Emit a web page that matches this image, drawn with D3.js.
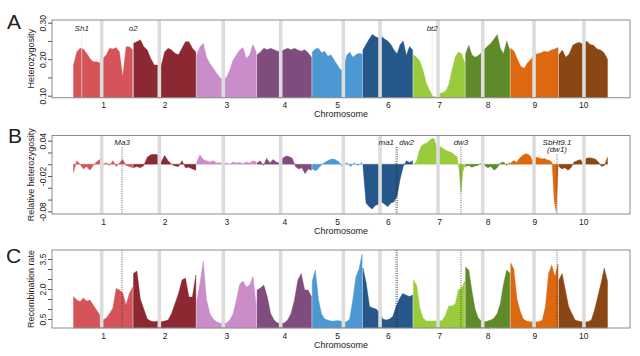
<!DOCTYPE html>
<html><head><meta charset="utf-8">
<script src="https://cdn.jsdelivr.net/npm/d3@7"></script>
<style>
body{margin:0;background:#fff}
text{font-family:"Liberation Sans",Arial,Helvetica,sans-serif;fill:#222}
</style>
</head><body>
<svg id="c" width="640" height="356"></svg>
<script>
// ---------------- data ----------------
const chromosomes = ["1","2","3","4","5","6","7","8","9","10"];
const chromLengths = [73.8, 77.9, 74.4, 68.0, 62.4, 62.2, 64.3, 55.5, 59.4, 60.9]; // Mb
const centromeres = [35.2, 32.4, 33.3, 29.6, 38.8, 21.6, 30.8, 21.6, 29.3, 31.4]; // Mb within chromosome
const chromColors = ["#d4545a","#8b2831","#cb8dca","#7f4c7d","#4b98d2","#25578a","#9acb3c","#5f8a29","#dc680f","#8a4714"];

// Panel A: heterozygosity, evenly spaced bins along each chromosome
const hetA = [
 [0.184,0.220,0.230,0.228,0.216,0.202,0.193,0.193,0.190,0.202,0.212,0.230,0.228,0.232,0.220,0.152,0.234,0.234,0.226],
 [0.244,0.248,0.253,0.234,0.225,0.202,0.184,0.184,0.182,0.220,0.230,0.225,0.216,0.212,0.230,0.248,0.248,0.230,0.220],
 [0.212,0.234,0.244,0.205,0.188,0.175,0.162,0.150,0.145,0.150,0.170,0.198,0.212,0.225,0.232,0.202,0.212,0.240,0.220],
 [0.212,0.220,0.230,0.226,0.230,0.226,0.222,0.222,0.226,0.230,0.226,0.230,0.225,0.222,0.226,0.218,0.205],
 [0.220,0.228,0.230,0.218,0.222,0.208,0.212,0.198,0.185,0.172,0.170,0.210,0.220,0.205,0.212,0.216,0.214],
 [0.225,0.240,0.255,0.268,0.262,0.258,0.262,0.255,0.250,0.240,0.225,0.215,0.240,0.250,0.210,0.235,0.225],
 [0.212,0.205,0.195,0.170,0.135,0.115,0.100,0.096,0.105,0.108,0.112,0.130,0.170,0.205,0.220,0.215,0.190],
 [0.215,0.238,0.212,0.205,0.210,0.218,0.228,0.236,0.244,0.255,0.268,0.230,0.215,0.250,0.225],
 [0.230,0.222,0.200,0.180,0.175,0.190,0.200,0.212,0.215,0.218,0.222,0.220,0.225,0.228,0.232],
 [0.212,0.225,0.205,0.215,0.238,0.244,0.246,0.240,0.250,0.240,0.238,0.228,0.225,0.218,0.200]
];

// Panel B: relative heterozygosity
const relB = [
 [-0.014,0.006,0.000,-0.008,-0.004,-0.010,-0.002,0.004,0.008,0.000,0.002,-0.002,0.006,-0.004,0.002,0.008,-0.002,-0.004,-0.006],
 [-0.006,-0.004,-0.006,-0.002,0.012,0.016,0.017,0.016,0.004,0.015,0.006,0.000,-0.003,-0.004,0.006,-0.006,-0.005,-0.008,-0.010],
 [0.004,0.016,0.008,0.006,0.004,0.006,0.002,0.003,0.001,0.002,0.000,0.004,0.002,0.003,0.001,0.004,0.002,0.006,0.004],
 [0.002,0.006,-0.002,0.010,0.002,0.008,0.004,0.002,0.010,0.014,0.013,0.010,-0.004,-0.008,-0.006,-0.016,-0.008,-0.010],
 [-0.008,-0.011,-0.004,0.002,0.006,0.009,0.008,0.004,-0.006,0.003,-0.004,0.002,-0.002,0.003],
 [-0.002,-0.066,-0.072,-0.076,-0.070,-0.068,-0.064,-0.068,-0.072,-0.066,-0.064,-0.054,-0.025,-0.004,0.006,0.003,0.006],
 [0.000,0.002,0.008,0.022,0.030,0.033,0.035,0.036,0.039,0.042,0.044,0.043,0.030,0.029,0.030,0.028,0.026,0.024,0.022,0.021,0.020,0.018,0.015,0.012,-0.010,-0.048,-0.012,-0.004],
 [-0.004,-0.002,-0.005,-0.003,-0.002,0.002,-0.002,-0.006,-0.004,-0.010,-0.006,0.002,0.004,-0.002,0.003],
 [0.002,0.005,0.006,0.003,0.008,0.012,0.015,0.017,0.018,0.016,0.014,0.006,0.010,0.012,0.011,0.010,0.009,0.010,0.008,0.007,0.006,0.002,-0.060,-0.080,-0.010],
 [-0.004,-0.008,-0.006,-0.010,-0.006,0.004,0.006,0.008,0.002,0.010,0.011,0.010,0.009,0.004,-0.004,-0.002,0.012]
];

// Panel C: recombination rate
const recC = [
 [1.62,1.45,1.37,1.55,1.40,1.45,1.20,0.95,0.70,0.45,0.55,0.78,1.05,2.03,1.95,1.80,1.20,1.78,2.10],
 [2.78,2.90,1.50,1.00,0.50,0.40,0.36,0.40,0.36,0.40,0.45,0.78,1.28,1.78,2.45,2.55,1.60,1.60,2.70],
 [1.40,2.30,3.40,1.45,0.78,0.50,0.36,0.30,0.28,0.30,0.45,0.78,1.45,2.25,2.40,2.10,2.20,2.62,1.20],
 [1.95,2.05,2.20,1.62,0.78,0.45,0.30,0.28,0.30,0.45,0.78,1.45,2.45,2.78,1.95,1.95,1.62],
 [2.40,2.95,1.45,0.75,0.50,0.45,0.40,0.40,0.42,0.40,0.36,0.36,0.50,1.45,2.60,3.00,3.75],
 [3.05,2.30,1.12,1.05,1.00,0.80,0.50,0.45,0.50,0.62,1.12,1.50,1.78,1.70,1.62,1.70],
 [2.45,2.20,1.05,0.55,0.40,0.40,0.40,0.40,0.40,0.42,0.70,1.15,1.15,1.25,1.95,2.05,2.40],
 [3.10,2.95,1.90,1.00,0.55,0.40,0.36,0.40,0.45,0.55,0.78,1.28,2.25,2.95,2.80],
 [3.30,3.00,1.50,0.90,0.50,0.40,0.36,0.36,0.36,0.36,0.45,1.12,2.78,3.20,2.62,3.25],
 [2.45,2.78,1.95,1.12,0.78,0.45,0.40,0.36,0.36,0.36,0.45,0.95,1.62,2.30,3.05,2.40]
];

// tick values
const ticksA = [0.10,0.15,0.20,0.25,0.30];
const tickLabelsA = [0.10,0.20,0.30];
const ticksB = [0.04,0.02,0,-0.02,-0.04,-0.06,-0.08];
const tickLabelsB = [0.04,-0.02,-0.08];
const ticksC = [0.5,1.0,1.5,2.0,2.5,3.0,3.5];
const tickLabelsC = [0.5,2.0,3.5];

// genes (chromosome index 1-based, Mb within chromosome)
const genesA = [{name:"Sh1",chr:1,pos:10.6},{name:"o2",chr:2,pos:0.2},{name:"bt2",chr:7,pos:23.7}];
const genesBC = [
 {name:"Ma3",chr:1,pos:60.3,anchor:"middle"},
 {name:"ma1",chr:6,pos:41.3,anchor:"end"},
 {name:"dw2",chr:6,pos:42.8,anchor:"start"},
 {name:"dw3",chr:7,pos:59.1,anchor:"middle"},
 {name:"SbHt9.1",chr:9,pos:57.6,anchor:"middle",sub:"(dw1)"}
];

// ---------------- drawing ----------------
const svg = d3.select("#c");
const x = d3.scaleLinear().domain([-26, 686]).range([52, 630]);
const offsets = [];
{ let acc = 0; chromLengths.forEach(l => { offsets.push(acc); acc += l; }); }
const gpos = (chrIdx, mb) => offsets[chrIdx] + mb;

const panels = [
 {letter:"A", top:20, bottom:97.7, domain:[0.0945,0.3074], data:hetA, zeroBase:false,
  ticks:ticksA, labeled:tickLabelsA, dec:2, title:"Heterozygosity", letterY:28.5, letterX:7},
 {letter:"B", top:135.5, bottom:214, domain:[-0.0845,0.0488], data:relB, zeroBase:true,
  ticks:ticksB, labeled:tickLabelsB, dec:2, title:"Relative heterozygosity", letterY:143, letterX:8},
 {letter:"C", top:250, bottom:328, domain:[0.05,3.95], data:recC, zeroBase:false,
  ticks:ticksC, labeled:tickLabelsC, dec:1, title:"Recombination rate", letterY:263, letterX:6}
];

panels.forEach((p, pi) => {
  const y = d3.scaleLinear().domain(p.domain).range([p.bottom, p.top]);
  const g = svg.append("g");
  const base = p.zeroBase ? y(0) : p.bottom;

  // areas per chromosome
  p.data.forEach((vals, ci) => {
    const len = chromLengths[ci];
    const n = vals.length;
    const pts = vals.map((v, i) => ({g: offsets[ci] + 0.5 + (len - 1.0) * i / (n - 1), v}));
    const area = d3.area().x(d => x(d.g)).y0(base).y1(d => y(d.v)).curve(d3.curveLinear);
    g.append("path").attr("d", area(pts)).attr("fill", chromColors[ci]).attr("stroke", chromColors[ci]).attr("stroke-width", 0.4);
  });

  // centromere bands
  centromeres.forEach((c, ci) => {
    const cx = x(gpos(ci, c));
    g.append("rect").attr("x", cx - 1.8).attr("y", p.top + 0.5).attr("width", 3.6)
      .attr("height", p.bottom - p.top - 1).attr("fill", "#dcdcdc");
  });

  // gene markers
  if (pi === 0) {
    genesA.forEach(gn => {
      const gx = x(gpos(gn.chr - 1, gn.pos));
      g.append("line").attr("x1", gx).attr("x2", gx).attr("y1", p.top + 13).attr("y2", p.bottom)
        .attr("stroke", "#e6e6e6").attr("stroke-width", 0.7);
      g.append("text").attr("x", gx).attr("y", p.top + 10.5).attr("text-anchor", "middle")
        .attr("font-size", 8).attr("font-style", "italic").text(gn.name);
    });
  } else {
    genesBC.forEach(gn => {
      const gx = x(gpos(gn.chr - 1, gn.pos));
      const y1 = pi === 1 ? p.top + (gn.sub ? 19 : 11.5) : p.top;
      g.append("line").attr("x1", gx).attr("x2", gx).attr("y1", y1).attr("y2", p.bottom)
        .attr("stroke", "#333").attr("stroke-width", 0.8).attr("stroke-dasharray", "1,1.3");
      if (pi === 1) {
        const tx = gn.anchor === "end" ? gx - 2 : gn.anchor === "start" ? gx + 2 : gx;
        g.append("text").attr("x", tx).attr("y", p.top + 9).attr("text-anchor", gn.anchor)
          .attr("font-size", 8).attr("font-style", "italic").text(gn.name);
        if (gn.sub) {
          g.append("text").attr("x", tx).attr("y", p.top + 16.5).attr("text-anchor", "middle")
            .attr("font-size", 8).attr("font-style", "italic").text(gn.sub);
        }
      }
    });
  }

  // box
  g.append("rect").attr("x", 52).attr("y", p.top).attr("width", 578).attr("height", p.bottom - p.top)
    .attr("fill", "none").attr("stroke", "#8d8d8d").attr("stroke-width", 1);

  // y axis
  const ya = d3.axisLeft(y).tickValues(p.ticks).tickSize(4).tickPadding(3)
    .tickFormat(v => p.labeled.some(l => Math.abs(l - v) < 1e-9) ? v.toFixed(p.dec) : "");
  const yg = g.append("g").attr("transform", "translate(52,0)").call(ya);
  yg.select(".domain").remove();
  yg.selectAll(".tick line").attr("stroke", "#555");
  yg.selectAll(".tick text").attr("transform", "rotate(-90)").attr("x", 0).attr("y", -6.5).attr("dy", 0)
    .attr("text-anchor", "middle").attr("font-size", 8.5).attr("font-family", null).style("fill", "#222");

  // x axis (labels at chromosome midpoints)
  const mids = chromosomes.map((c, i) => offsets[i] + chromLengths[i] / 2);
  const xa = d3.axisBottom(x).tickValues(mids).tickSize(0).tickPadding(4.5)
    .tickFormat((d, i) => chromosomes[i]);
  const xg = g.append("g").attr("transform", `translate(0,${p.bottom})`).call(xa);
  xg.select(".domain").remove();
  xg.selectAll(".tick text").attr("font-size", 8.5).attr("font-family", null).style("fill", "#222");

  // axis titles
  g.append("text").attr("x", 341).attr("y", p.bottom + 19.5).attr("text-anchor", "middle")
    .attr("font-size", 9).text("Chromosome");
  g.append("text").attr("transform", `translate(33.5,${(p.top + p.bottom) / 2}) rotate(-90)`)
    .attr("text-anchor", "middle").attr("font-size", 9).text(p.title);

  // panel letter
  g.append("text").attr("x", p.letterX).attr("y", p.letterY).attr("font-size", 21).text(p.letter);
});
</script>
</body></html>
